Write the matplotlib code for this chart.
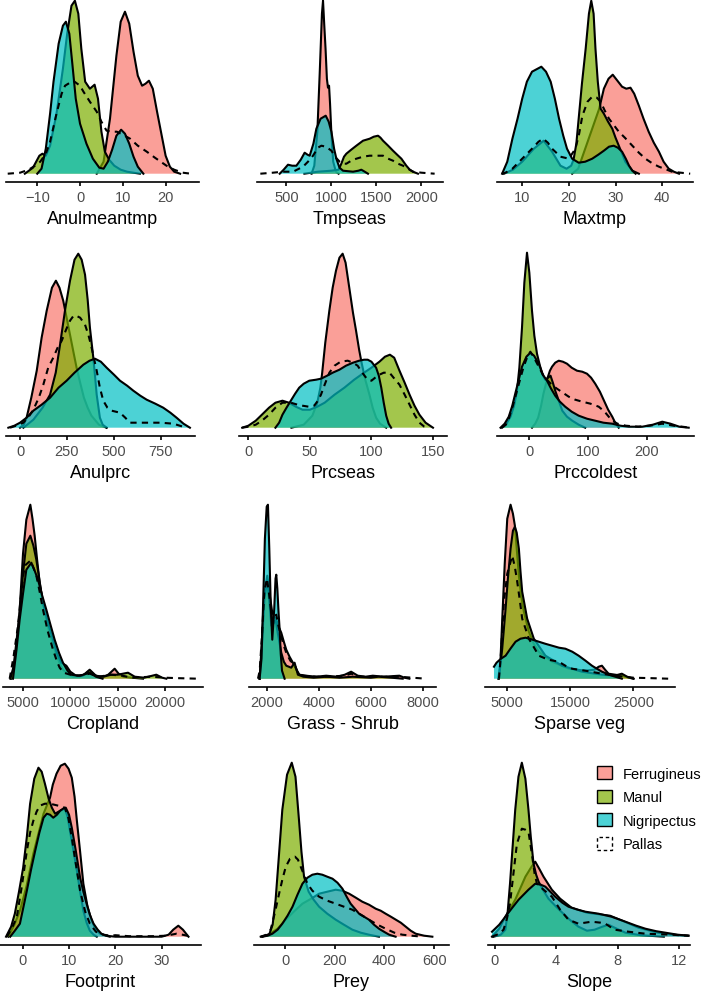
import matplotlib.pyplot as plt
from matplotlib.patches import Patch
from matplotlib.colors import to_rgba

plt.rcParams['font.family'] = ['Liberation Sans', 'DejaVu Sans']

species = ['Ferrugineus', 'Manul', 'Nigripectus', 'Pallas']
fill_colors = ['#F8766D', '#7CAE00', '#00BFC4', None]

# density curves, as (value, relative density)
anulmeantmp_ferrugineus = [(3.9, 0), (5.5, 12), (7, 55), (8.5, 118), (9.5, 152), (10.5, 162), (11.5, 150), (12.5, 122),
                           (13.5, 98), (14.5, 88), (15.3, 90), (16.1, 93), (17, 85), (18, 62), (19, 40), (20, 18),
                           (21, 7), (22, 2), (23.4, 0)]
anulmeantmp_manul = [(-12.9, 0), (-11, 6), (-9.5, 18), (-8.8, 20), (-8, 18), (-7, 28), (-5.5, 60), (-4, 105),
                     (-3, 140), (-2, 168), (-1.2, 173), (-0.4, 160), (0.3, 125), (1.2, 92), (2.3, 85), (3.4, 89),
                     (4.2, 75), (5, 42), (5.8, 22), (6.8, 14), (8, 8), (9.5, 4), (11, 2), (14, 0)]
anulmeantmp_nigripectus = [(-10, 0), (-9, 5), (-8, 25), (-7, 60), (-6.2, 92), (-5, 130), (-4, 148), (-3.3, 152),
                           (-2.5, 140), (-1.8, 110), (-1, 75), (0, 50), (1.5, 30), (3, 15), (4.5, 6), (5.5, 5),
                           (6.5, 12), (7.5, 24), (8.5, 38), (9.6, 44), (10.5, 40), (11.5, 30), (12.5, 17), (13.5, 7),
                           (14.8, 0)]
anulmeantmp_pallas = [(-16.9, 0), (-14, 1), (-12, 4), (-10.5, 8), (-9.3, 12), (-8, 20), (-7, 32), (-5.5, 60),
                      (-4.3, 80), (-3.5, 88), (-1.6, 93), (0, 88), (0.8, 82), (2.3, 72), (3.9, 62), (5, 52),
                      (6.2, 43), (7.5, 42), (8.6, 42), (10, 39), (11.7, 35), (13.5, 28), (15.6, 22), (17.5, 16),
                      (20.2, 8), (22, 4), (24, 1), (25.9, 0)]

tmpseas_ferrugineus = [(780, 0), (810, 8), (844, 42), (870, 100), (895, 160), (907, 173), (920, 150), (935, 125),
                       (950, 95), (962, 86), (974, 88), (985, 70), (1000, 40), (1020, 12), (1050, 2), (1080, 0)]
tmpseas_manul = [(700, 0), (850, 2), (1000, 3), (1080, 4), (1110, 10), (1140, 17), (1166, 20), (1220, 24),
                 (1277, 28), (1351, 33), (1425, 35), (1470, 37), (1518, 38), (1545, 36), (1573, 33), (1630, 28),
                 (1684, 23), (1730, 19), (1777, 15), (1832, 8), (1870, 4), (1906, 2), (1961, 0)]
tmpseas_nigripectus = [(426, 0), (470, 4), (518, 9), (565, 8), (611, 8), (660, 14), (703, 21), (735, 19), (759, 18),
                       (800, 30), (833, 45), (880, 55), (937, 58), (970, 52), (1000, 42), (1030, 25), (1055, 15),
                       (1090, 6), (1129, 3), (1240, 2), (1300, 3), (1332, 4), (1370, 2), (1406, 0)]
tmpseas_pallas = [(211, 0), (350, 1), (463, 2), (574, 2), (685, 7), (740, 12), (796, 18), (850, 26), (889, 28),
                  (940, 27), (1000, 23), (1050, 16), (1092, 12), (1130, 10), (1166, 10), (1220, 13), (1277, 15),
                  (1350, 17), (1425, 18), (1500, 18), (1573, 18), (1630, 15), (1684, 13), (1740, 10), (1795, 8),
                  (1850, 5), (1906, 2), (2000, 1), (2146, 0)]

maxtmp_ferrugineus = [(20.7, 0), (22, 5), (23.5, 25), (25, 45), (26.5, 65), (27.5, 85), (28.5, 95), (29.4, 99),
                      (30.4, 93), (31.4, 87), (32.3, 85), (33.2, 86), (34, 80), (35, 68), (36, 55), (37.1, 42),
                      (38.2, 31), (39.3, 22), (40.3, 12), (41.4, 5), (42.5, 2), (43.6, 0)]
maxtmp_manul = [(6.1, 0), (8, 4), (10, 12), (12.5, 25), (14.6, 33), (16.4, 22), (18.2, 8), (19.5, 5), (20.5, 8),
                (21, 14), (21.6, 30), (22.1, 55), (22.8, 90), (23.6, 125), (24.3, 160), (24.8, 173), (25.3, 160),
                (25.7, 125), (26.2, 92), (26.8, 65), (27.5, 60), (28.4, 52), (29.3, 45), (30, 36), (30.7, 28),
                (31.5, 19), (32.1, 12), (33.6, 3), (35, 0)]
maxtmp_nigripectus = [(5.7, 0), (6.8, 12), (7.9, 35), (9, 55), (10, 75), (11, 92), (12.1, 102), (14.1, 107),
                      (15.1, 102), (16.1, 92), (17, 75), (17.9, 55), (18.8, 38), (19.6, 25), (20.7, 15), (22.1, 11),
                      (23.5, 12), (25, 15), (26.3, 19), (27.5, 23), (28.6, 27), (29.6, 28), (30.5, 26), (31.4, 22),
                      (32.2, 15), (32.9, 8), (33.6, 3), (34.3, 0)]
maxtmp_pallas = [(5.6, 0), (6.4, 1), (7.9, 5), (10, 15), (12.1, 25), (13.5, 32), (14.5, 35), (15.5, 31), (16.4, 25),
                 (18.2, 17), (20, 15), (21.4, 25), (22.2, 40), (22.9, 58), (24, 72), (25, 77), (26, 76), (26.8, 72),
                 (27.7, 63), (28.6, 55), (30.7, 42), (32, 36), (33.6, 28), (35, 21), (36.4, 15), (38, 10),
                 (39.3, 7), (41, 4), (42.1, 2), (44, 1), (46, 0)]

anulprc_ferrugineus = [(0, 0), (20, 3), (35, 10), (60, 30), (89, 57), (115, 90), (142, 117), (170, 140), (191, 147),
                       (210, 140), (230, 127), (248, 110), (266, 93), (285, 75), (301, 60), (320, 45), (340, 30),
                       (360, 20), (380, 12), (420, 3), (460, 0)]
anulprc_manul = [(18, 0), (71, 8), (120, 20), (160, 33), (190, 55), (213, 83), (240, 118), (266, 147), (290, 168),
                 (310, 174), (328, 168), (346, 153), (360, 128), (372, 100), (390, 70), (400, 50), (408, 33),
                 (425, 10), (440, 3), (461, 0)]
anulprc_nigripectus = [(-62, 0), (-30, 2), (0, 5), (35, 10), (71, 17), (115, 23), (160, 30), (205, 40), (248, 47),
                       (290, 55), (337, 63), (370, 67), (399, 69), (430, 66), (461, 60), (500, 53), (532, 47),
                       (570, 42), (603, 37), (640, 32), (674, 28), (720, 24), (762, 20), (800, 15), (833, 10),
                       (870, 4), (904, 0)]
anulprc_pallas = [(-53, 0), (-20, 2), (18, 5), (50, 12), (71, 18), (100, 30), (124, 43), (150, 60), (177, 70),
                  (200, 80), (222, 87), (245, 98), (266, 107), (285, 112), (298, 112), (320, 110), (346, 103),
                  (365, 92), (381, 80), (395, 68), (408, 57), (425, 40), (443, 27), (465, 20), (488, 17), (510, 16),
                  (532, 15), (560, 10), (585, 5), (640, 5), (691, 5), (750, 5), (816, 4), (850, 2), (887, 0)]

prcseas_ferrugineus = [(35, 0), (45, 3), (52, 12), (56, 25), (58.5, 40), (60, 55), (62.5, 85), (65.8, 117),
                       (68.5, 140), (71.2, 157), (74, 170), (76.6, 174), (79, 165), (82, 140), (85, 115),
                       (87.5, 97), (90, 78), (92, 65), (95, 48), (98.4, 33), (101, 20), (103.8, 10), (107, 4),
                       (112, 0)]
prcseas_manul = [(-5, 0), (0, 2), (6, 7), (11, 13), (16.8, 20), (22, 25), (27.7, 27), (33, 25), (38.6, 21), (44, 18),
                 (50, 18), (56, 21), (62, 25), (70, 33), (78, 40), (86, 48), (94, 55), (100, 60), (106.5, 66),
                 (111, 71), (115, 73), (118.5, 70), (122.8, 57), (127, 45), (131, 33), (135, 22), (139, 13),
                 (144, 5), (150, 0)]
prcseas_nigripectus = [(22, 0), (25, 5), (27.7, 13), (31, 20), (34.5, 27), (38, 34), (41.3, 40), (45, 44),
                       (49.5, 47), (55, 48), (59, 49), (64, 52), (68.5, 55), (74, 58), (79.3, 62), (85, 65),
                       (90, 67), (94, 68), (97, 68), (100, 66), (103.8, 60), (106, 52), (108, 40), (110, 25),
                       (112, 12), (114, 4), (116, 0)]
prcseas_pallas = [(-5, 0), (0, 1), (6, 3), (11, 7), (16.8, 13), (22, 20), (27.7, 25), (34.5, 25), (40, 23), (44, 22),
                  (49, 21), (53.5, 22), (56.5, 27), (59, 33), (62, 43), (65.8, 55), (70, 62), (75, 66), (80.7, 67),
                  (85, 65), (88.8, 62), (92, 56), (95, 51), (97, 48), (100, 47), (103, 50), (106.5, 53), (110, 55),
                  (114.7, 55), (118, 50), (122.8, 43), (127, 33), (131, 23), (135, 13), (139, 5), (143, 1), (146, 0)]

prccoldest_ferrugineus = [(4.5, 0), (10, 4), (15, 10), (20, 22), (24, 34), (30, 48), (35, 57), (38.6, 61), (44, 65),
                          (50, 67), (57, 66), (64, 64), (72, 60), (81, 57), (90, 56), (98, 54), (105, 50), (112, 44),
                          (120, 36), (127, 27), (134, 18), (141, 11), (146, 5), (152, 0)]
prccoldest_manul = [(-46.6, 0), (-40, 3), (-32, 11), (-26, 22), (-21, 37), (-17, 60), (-12.5, 100), (-8.5, 145),
                    (-4, 175), (0, 155), (4.5, 117), (8.5, 92), (13, 74), (18, 62), (22.5, 53), (27, 48), (32, 50),
                    (36, 52), (40, 45), (44, 37), (50, 27), (56, 17), (64, 11), (73, 7), (84, 3), (95, 0)]
prccoldest_nigripectus = [(-49, 0), (-42, 4), (-35, 11), (-29, 22), (-24, 34), (-18, 48), (-12.5, 61), (-5, 71),
                          (1.7, 75), (8, 72), (16, 64), (23, 53), (30, 47), (37, 39), (44, 32), (52, 26), (61, 21),
                          (72, 16), (84, 12), (98, 9), (112, 7), (126, 5), (141, 4), (155, 2), (169, 1), (192, 1),
                          (210, 3), (226, 6), (240, 4), (255, 1), (271, 0)]
prccoldest_pallas = [(-46.6, 0), (-40, 3), (-35, 9), (-28, 22), (-21, 37), (-15, 50), (-9.7, 61), (-4, 70),
                     (1.7, 76), (8, 70), (16, 61), (24, 52), (33, 46), (40, 42), (47, 39), (57, 35), (67, 31),
                     (78, 28), (90, 26), (104, 24), (118, 21), (128, 16), (135, 11), (141, 7), (150, 4), (164, 2),
                     (185, 1), (205, 2), (226, 4), (245, 2), (260, 1), (274, 0)]

cropland_ferrugineus = [(3768, 0), (4100, 15), (4400, 40), (4648, 69), (5000, 125), (5352, 159), (5775, 174),
                        (6000, 160), (6232, 143), (6500, 118), (6760, 96), (7100, 76), (7464, 59), (7900, 42),
                        (8344, 29), (8800, 17), (9224, 9), (9700, 5), (10280, 2), (11000, 2), (11600, 5),
                        (12040, 8), (12500, 4), (13200, 1), (14000, 4), (14680, 10), (15100, 5), (15600, 2),
                        (16500, 1), (17672, 0)]
cropland_manul = [(3662, 0), (4000, 12), (4400, 45), (4648, 65), (5000, 105), (5352, 135), (5775, 143), (6100, 133),
                  (6408, 119), (6760, 97), (7112, 76), (7600, 57), (8168, 39), (8600, 25), (9048, 16), (9576, 13),
                  (10000, 7), (10600, 3), (11300, 3), (12040, 9), (12700, 3), (13500, 2), (14300, 4), (15000, 4),
                  (16088, 6), (16800, 2), (17800, 1), (19080, 4), (19700, 1), (20136, 0)]
cropland_nigripectus = [(3944, 0), (4300, 28), (4648, 59), (5000, 85), (5352, 109), (5880, 116), (6232, 108),
                        (6584, 99), (7000, 84), (7464, 69), (7900, 54), (8344, 39), (8800, 26), (9224, 16),
                        (9700, 8), (10104, 4), (10800, 3), (11400, 4), (12040, 6), (12700, 2), (13400, 0)]
cropland_pallas = [(3592, 0), (4000, 22), (4472, 53), (4800, 85), (5176, 113), (5775, 118), (6100, 111), (6408, 103),
                   (6760, 87), (7112, 69), (7600, 48), (8168, 29), (8600, 17), (8872, 11), (9300, 6), (10000, 4),
                   (11000, 3), (12040, 5), (13000, 2), (14300, 4), (15500, 3), (16500, 1), (18500, 2), (20000, 1),
                   (21500, 0.5), (23480, 0)]

grass_ferrugineus = [(1718, 0), (1800, 35), (1900, 85), (2013, 103), (2100, 85), (2205, 66), (2280, 62), (2359, 59),
                     (2450, 52), (2551, 46), (2650, 37), (2744, 29), (2870, 22), (3000, 16), (3130, 9), (3256, 4),
                     (3500, 3), (3900, 2), (4282, 3), (4700, 2), (5000, 4), (5243, 7), (5500, 3), (5800, 2),
                     (6077, 3), (6500, 2), (7102, 3), (7300, 1), (7487, 0)]
grass_manul = [(1718, 0), (1800, 30), (1900, 80), (2013, 99), (2100, 75), (2167, 53), (2250, 55), (2333, 59),
               (2420, 45), (2551, 26), (2650, 17), (2744, 13), (2936, 11), (3064, 16), (3192, 4), (3400, 2),
               (3800, 1), (4300, 2), (4800, 1), (5300, 2), (6000, 1), (6300, 2), (6800, 1), (7230, 0)]
grass_nigripectus = [(1718, 0), (1790, 20), (1846, 70), (1920, 140), (1990, 172), (2038, 174), (2090, 130),
                     (2150, 70), (2205, 39), (2280, 70), (2330, 100), (2359, 104), (2400, 90), (2450, 65),
                     (2487, 50), (2530, 25), (2580, 8), (2680, 0)]
grass_pallas = [(1654, 0), (1720, 8), (1800, 40), (1900, 88), (2000, 100), (2080, 85), (2205, 58), (2280, 62),
                (2359, 64), (2450, 52), (2551, 42), (2650, 33), (2744, 26), (2900, 18), (3064, 14), (3192, 6),
                (3400, 3), (3900, 2), (4300, 2), (5000, 3), (5243, 5), (5600, 2), (6200, 2), (7100, 2), (7600, 1),
                (8128, 0)]

sparse_ferrugineus = [(3579, 0), (3900, 15), (4211, 60), (4600, 115), (5000, 160), (5526, 174), (5900, 165),
                      (6211, 153), (6500, 130), (6842, 103), (7200, 83), (7632, 67), (8421, 47), (9200, 35),
                      (10000, 27), (12105, 17), (14737, 10), (17368, 8), (18800, 9), (19500, 12), (20000, 13),
                      (20500, 9), (21053, 5), (23158, 3), (24300, 1), (25000, 0)]
sparse_manul = [(3684, 0), (4200, 30), (4737, 70), (5100, 100), (5526, 130), (5900, 148), (6211, 152), (6500, 146),
                (6842, 130), (7100, 107), (7368, 87), (8158, 60), (9211, 40), (11053, 23), (13684, 13), (16842, 7),
                (20000, 4), (22000, 3), (23158, 5), (24000, 2), (25000, 0)]
sparse_nigripectus = [(2895, 12), (3300, 16), (4000, 20), (4737, 23), (5500, 30), (6316, 37), (7100, 40),
                      (7895, 41), (9000, 39), (10000, 37), (11000, 35), (12105, 33), (13200, 31), (14211, 30),
                      (15300, 27), (16316, 23), (17400, 18), (18421, 13), (19200, 10), (20000, 7), (21579, 3),
                      (23158, 0)]
sparse_pallas = [(3684, 0), (4000, 25), (4474, 77), (5000, 105), (5789, 123), (6200, 112), (6579, 97), (7000, 78),
                 (7368, 60), (8421, 40), (10000, 23), (11500, 19), (13158, 17), (14200, 13), (15263, 10),
                 (17368, 8), (20000, 5), (22000, 3), (25000, 1), (28000, 0.5), (30526, 0)]

footprint_ferrugineus = [(-3.1, 0), (-1.8, 12), (-0.6, 26), (0.8, 50), (2.3, 83), (3.5, 105), (4.5, 123), (5.9, 139),
                         (6.5, 152), (7.3, 163), (8.2, 171), (9.1, 173), (9.9, 168), (10.6, 159), (11.2, 140),
                         (11.7, 116), (12.4, 85), (13.1, 53), (14, 30), (14.9, 16), (15.8, 7), (16.7, 3), (18, 1),
                         (20, 0), (30, 0), (31.5, 2), (32.5, 7), (33.6, 11), (34.6, 7), (35.8, 0)]
footprint_manul = [(-3.6, 0), (-2.5, 10), (-1.7, 23), (-0.8, 45), (0.1, 69), (0.9, 100), (1.6, 133), (2.5, 158),
                   (3.4, 169), (4.1, 165), (4.8, 153), (5.6, 138), (6.3, 129), (7, 123), (8.1, 126), (9.1, 128),
                   (9.7, 120), (10.2, 106), (11, 85), (11.7, 66), (12.4, 45), (13.1, 26), (13.8, 14), (14.5, 6),
                   (15.3, 2), (16, 0)]
footprint_nigripectus = [(-2.7, 0), (-1.7, 6), (-0.6, 13), (0.9, 46), (1.8, 67), (2.7, 86), (3.6, 104), (4.5, 119),
                         (5.2, 123), (5.9, 122), (6.6, 119), (7.4, 122), (8.1, 126), (8.7, 128), (9.3, 129),
                         (10, 122), (10.6, 109), (11.5, 85), (12.4, 59), (13.1, 45), (13.8, 33), (14.5, 22),
                         (15.3, 13), (16.2, 7), (17, 3), (18, 1), (18.8, 0)]
footprint_pallas = [(-3.4, 0), (-2.4, 8), (-1.3, 19), (-0.2, 50), (0.9, 86), (1.6, 104), (2.3, 116), (3, 125),
                    (3.7, 131), (4.8, 133), (5.9, 133), (6.8, 132), (7.7, 131), (8.4, 130), (9.1, 129), (9.9, 118),
                    (10.6, 99), (11.5, 72), (12.4, 46), (13.5, 25), (14.5, 13), (15.8, 5), (17.4, 2), (19, 1),
                    (20, 1.5), (21.5, 1), (23, 0.5), (28, 0.5), (31, 1), (33.2, 3), (34.5, 2), (36.5, 0)]

prey_ferrugineus = [(-91, 0), (-60, 3), (-30, 8), (3, 17), (35, 25), (70, 33), (105, 38), (137, 43), (170, 45),
                    (204, 47), (230, 46), (258, 43), (285, 39), (311, 35), (338, 32), (365, 28), (385, 26),
                    (405, 23), (426, 20), (446, 17), (466, 14), (486, 10), (506, 6), (526, 3), (560, 1), (593, 0)]
prey_manul = [(-98, 0), (-64, 2), (-50, 12), (-38, 37), (-25, 80), (-11, 127), (8, 162), (27, 174), (42, 160),
              (56, 117), (66, 85), (76.5, 60), (95, 45), (115, 37), (137, 30), (170, 23), (204, 17), (237, 12),
              (271, 7), (305, 4), (338, 2), (378, 0)]
prey_nigripectus = [(-91, 0), (-70, 1), (-51, 3), (-30, 7), (-11, 13), (10, 21), (30, 30), (50, 42), (70, 53),
                    (90, 59), (110, 62), (130, 63), (150, 62), (170, 60), (191, 58), (211, 54), (231, 48), (248, 40),
                    (264, 33), (281, 28), (298, 23), (318, 20), (338, 17), (358, 12), (378, 8), (398, 5), (419, 2),
                    (445, 0)]
prey_pallas = [(-98, 0), (-75, 2), (-58, 7), (-40, 25), (-24, 43), (-10, 58), (3, 70), (20, 78), (40, 80), (52, 77),
               (63, 70), (76, 62), (90, 53), (110, 46), (137, 40), (170, 36), (204, 33), (237, 30), (271, 27),
               (305, 22), (338, 17), (372, 12), (405, 8), (440, 4), (472, 2), (510, 1), (553, 0)]

slope_ferrugineus = [(-0.17, 0), (0.3, 8), (0.7, 20), (1.34, 37), (2, 60), (2.4, 70), (2.64, 75), (2.9, 68),
                     (3.18, 60), (3.72, 47), (4.26, 38), (5, 29), (6, 24), (7, 22), (7.5, 21), (8.3, 16), (9.35, 9),
                     (10.6, 4), (11.5, 2), (12.6, 1)]
slope_manul = [(-0.06, 0), (0.4, 2), (0.7, 7), (0.85, 25), (1.0, 53), (1.17, 90), (1.34, 127), (1.55, 160),
               (1.77, 174), (2.0, 158), (2.2, 127), (2.35, 100), (2.53, 73), (2.7, 62), (2.86, 55), (3.1, 48),
               (3.5, 38), (4, 30), (4.4, 24), (4.8, 18), (5.45, 10), (6, 6), (6.5, 7), (7, 10), (7.4, 12), (7.8, 9),
               (8.5, 4), (9.5, 1.5), (10.5, 0.5), (11, 0)]
slope_nigripectus = [(-0.17, 5), (0.3, 12), (0.7, 20), (1.1, 28), (1.56, 37), (2.2, 47), (2.64, 53), (3.0, 52),
                     (3.3, 50), (3.94, 40), (4.4, 34), (4.8, 30), (5.4, 27), (5.9, 25), (6.75, 23), (7.6, 20),
                     (8.5, 15), (9.2, 11), (9.8, 8), (10.5, 5.5), (11.1, 4), (11.9, 2), (12.6, 1)]
slope_pallas = [(-0.17, 0), (0.3, 3), (0.58, 7), (0.8, 18), (1.0, 33), (1.2, 60), (1.45, 93), (1.77, 108),
                (2.0, 107), (2.2, 105), (2.42, 83), (2.6, 63), (2.75, 53), (3.18, 47), (3.72, 40), (4.26, 27),
                (4.8, 17), (5.45, 13), (6.3, 15), (6.9, 14), (7.2, 13), (7.5, 10), (7.8, 7), (8.7, 5), (9.8, 3),
                (11.5, 2), (12.6, 1)]

titles = ['Anulmeantmp', 'Tmpseas', 'Maxtmp', 'Anulprc', 'Prcseas', 'Prccoldest',
          'Cropland', 'Grass - Shrub', 'Sparse veg', 'Footprint', 'Prey', 'Slope']
curves = [
    [anulmeantmp_ferrugineus, anulmeantmp_manul, anulmeantmp_nigripectus, anulmeantmp_pallas],
    [tmpseas_ferrugineus, tmpseas_manul, tmpseas_nigripectus, tmpseas_pallas],
    [maxtmp_ferrugineus, maxtmp_manul, maxtmp_nigripectus, maxtmp_pallas],
    [anulprc_ferrugineus, anulprc_manul, anulprc_nigripectus, anulprc_pallas],
    [prcseas_ferrugineus, prcseas_manul, prcseas_nigripectus, prcseas_pallas],
    [prccoldest_ferrugineus, prccoldest_manul, prccoldest_nigripectus, prccoldest_pallas],
    [cropland_ferrugineus, cropland_manul, cropland_nigripectus, cropland_pallas],
    [grass_ferrugineus, grass_manul, grass_nigripectus, grass_pallas],
    [sparse_ferrugineus, sparse_manul, sparse_nigripectus, sparse_pallas],
    [footprint_ferrugineus, footprint_manul, footprint_nigripectus, footprint_pallas],
    [prey_ferrugineus, prey_manul, prey_nigripectus, prey_pallas],
    [slope_ferrugineus, slope_manul, slope_nigripectus, slope_pallas],
]
ticks = [[-10, 0, 10, 20], [500, 1000, 1500, 2000], [10, 20, 30, 40],
         [0, 250, 500, 750], [0, 50, 100, 150], [0, 100, 200],
         [5000, 10000, 15000, 20000], [2000, 4000, 6000, 8000], [5000, 15000, 25000],
         [0, 10, 20, 30], [0, 200, 400, 600], [0, 4, 8, 12]]
xlims = [(-17.3, 27.8), (174, 2239), (4.6, 46.6),
         (-74.5, 931), (-7.6, 161.4), (-55, 280),
         (2887, 24010), (1308, 8513), (1474, 31579),
         (-4.9, 38.5), (-125, 660), (-0.43, 12.7)]

# panel boxes in pixels: left, right, y of the axis line
W, H = 709, 995
boxes = [(6, 199, 183), (257, 443, 183), (497, 693, 183),
         (6, 195, 437), (239, 447, 437), (497, 694, 437),
         (3, 203, 688), (249, 436, 688), (485, 675, 688),
         (0, 201, 946), (254, 449, 946), (488, 690, 946)]
PANEL_H = 190
BASE = 8.3

fig = plt.figure(figsize=(W / 100, H / 100), dpi=100)

for k in range(12):
    left, right, axis_y = boxes[k]
    ax = fig.add_axes([left / W, 1 - axis_y / H, (right - left) / W, PANEL_H / H])
    for j, pts in enumerate(curves[k]):
        xs = [p[0] for p in pts]
        ys = [p[1] for p in pts]
        z = 2 + 2 * j
        if fill_colors[j] is not None:
            ax.fill_between(xs, 0, ys, facecolor=fill_colors[j], alpha=0.7, lw=0, zorder=z)
            ax.plot(xs, ys, color='black', lw=1.5, zorder=z + 1, solid_joinstyle='round')
        else:
            ax.plot(xs, ys, color='black', lw=1.5, ls=(0, (3, 2.5)), zorder=z + 1)
    ax.set_xlim(*xlims[k])
    ax.set_ylim(-BASE, PANEL_H - BASE)
    ax.set_xticks(ticks[k])
    ax.set_yticks([])
    for s in ['top', 'right', 'left']:
        ax.spines[s].set_visible(False)
    ax.spines['bottom'].set_linewidth(1.2)
    ax.tick_params(axis='x', length=3, width=1.2, pad=3, labelsize=10.5, labelcolor='#4D4D4D')
    ax.set_xlabel(titles[k], fontsize=13, labelpad=4)
    ax.patch.set_alpha(0)

handles = []
for j, name in enumerate(species):
    if fill_colors[j] is not None:
        handles.append(Patch(facecolor=to_rgba(fill_colors[j], 0.7), edgecolor='black', linewidth=1.0, label=name))
    else:
        handles.append(Patch(facecolor='white', edgecolor='black', linewidth=1.0, linestyle=(0, (2.5, 2)), label=name))
fig.legend(handles=handles, loc='upper left', bbox_to_anchor=(597 / W, 1 - 767 / H), frameon=False,
           fontsize=10.5, handlelength=1.0, handleheight=1.0, handletextpad=0.75, labelspacing=0.62,
           borderpad=0, borderaxespad=0)

fig.savefig('out.png', dpi=100)
